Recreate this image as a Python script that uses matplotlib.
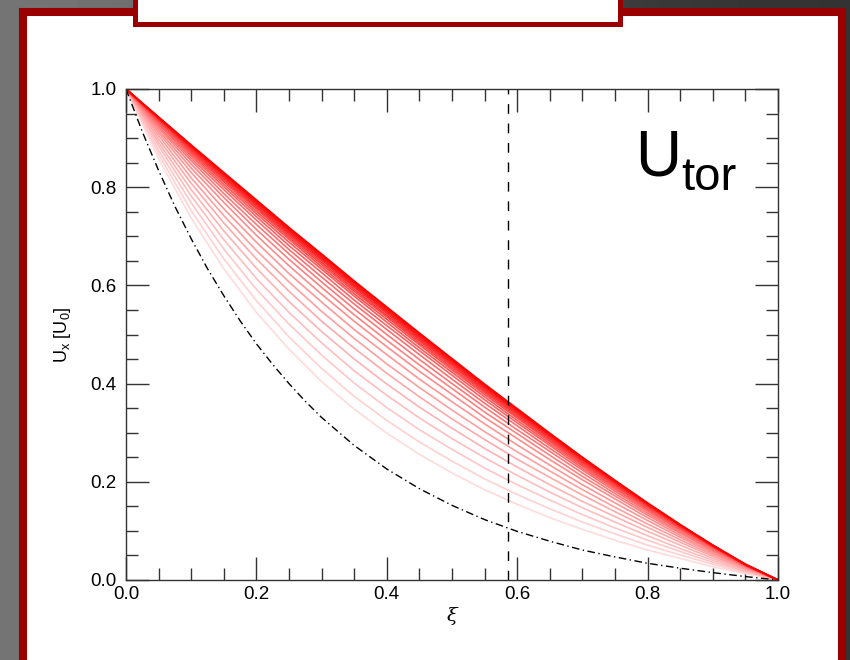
import matplotlib
matplotlib.use("Agg")
import matplotlib.pyplot as plt
from matplotlib.patches import Rectangle
from matplotlib.ticker import MultipleLocator, FormatStrFormatter
import numpy as np

plt.rcParams["font.family"] = ["Liberation Sans", "DejaVu Sans"]
plt.rcParams["mathtext.fontset"] = "custom"
plt.rcParams["mathtext.rm"] = "Liberation Sans"

# --- data ------------------------------------------------------------------
xi_grid = [0.0, 0.05, 0.1, 0.15, 0.2, 0.25, 0.3, 0.35, 0.4, 0.45, 0.5,
           0.55, 0.6, 0.65, 0.7, 0.75, 0.8, 0.85, 0.9, 0.95, 1.0]

# U_x profiles, earliest (palest) first, last row = final (reddest) profile
u_profiles = [
    [1.0, 0.858, 0.737, 0.634, 0.545, 0.470, 0.404, 0.348, 0.299, 0.256, 0.218, 0.184, 0.154, 0.127, 0.103, 0.081, 0.061, 0.044, 0.027, 0.013, 0.0],
    [1.0, 0.867, 0.752, 0.654, 0.569, 0.495, 0.431, 0.374, 0.325, 0.281, 0.242, 0.206, 0.174, 0.145, 0.118, 0.094, 0.071, 0.051, 0.032, 0.015, 0.0],
    [1.0, 0.875, 0.768, 0.674, 0.592, 0.521, 0.458, 0.401, 0.351, 0.306, 0.266, 0.228, 0.194, 0.163, 0.133, 0.106, 0.081, 0.058, 0.036, 0.017, 0.0],
    [1.0, 0.884, 0.782, 0.693, 0.614, 0.545, 0.483, 0.426, 0.376, 0.330, 0.288, 0.249, 0.213, 0.179, 0.147, 0.118, 0.090, 0.064, 0.040, 0.018, 0.0],
    [1.0, 0.891, 0.795, 0.711, 0.635, 0.567, 0.506, 0.450, 0.399, 0.352, 0.309, 0.268, 0.230, 0.194, 0.160, 0.129, 0.099, 0.071, 0.044, 0.020, 0.0],
    [1.0, 0.898, 0.808, 0.727, 0.654, 0.588, 0.527, 0.472, 0.421, 0.373, 0.328, 0.286, 0.246, 0.209, 0.173, 0.139, 0.107, 0.077, 0.048, 0.022, 0.0],
    [1.0, 0.905, 0.819, 0.742, 0.671, 0.607, 0.547, 0.492, 0.440, 0.392, 0.346, 0.302, 0.261, 0.222, 0.184, 0.148, 0.114, 0.082, 0.051, 0.023, 0.0],
    [1.0, 0.911, 0.830, 0.756, 0.688, 0.624, 0.566, 0.510, 0.459, 0.409, 0.363, 0.318, 0.275, 0.234, 0.194, 0.157, 0.121, 0.087, 0.054, 0.025, 0.0],
    [1.0, 0.916, 0.839, 0.769, 0.702, 0.640, 0.582, 0.527, 0.475, 0.425, 0.378, 0.331, 0.288, 0.245, 0.204, 0.165, 0.127, 0.091, 0.057, 0.026, 0.0],
    [1.0, 0.921, 0.847, 0.779, 0.714, 0.653, 0.596, 0.540, 0.488, 0.438, 0.390, 0.342, 0.298, 0.254, 0.211, 0.171, 0.132, 0.095, 0.060, 0.027, 0.0],
    [1.0, 0.924, 0.854, 0.787, 0.724, 0.664, 0.607, 0.552, 0.500, 0.449, 0.400, 0.352, 0.306, 0.262, 0.218, 0.176, 0.136, 0.098, 0.061, 0.028, 0.0],
    [1.0, 0.928, 0.859, 0.795, 0.733, 0.673, 0.617, 0.562, 0.510, 0.459, 0.409, 0.360, 0.314, 0.268, 0.224, 0.181, 0.140, 0.101, 0.063, 0.028, 0.0],
    [1.0, 0.930, 0.864, 0.801, 0.740, 0.681, 0.626, 0.570, 0.518, 0.467, 0.417, 0.367, 0.320, 0.274, 0.228, 0.185, 0.143, 0.103, 0.065, 0.029, 0.0],
    [1.0, 0.933, 0.868, 0.806, 0.746, 0.688, 0.633, 0.578, 0.525, 0.473, 0.423, 0.373, 0.325, 0.278, 0.232, 0.188, 0.145, 0.105, 0.066, 0.030, 0.0],
    [1.0, 0.935, 0.871, 0.811, 0.751, 0.694, 0.638, 0.583, 0.531, 0.479, 0.428, 0.378, 0.330, 0.282, 0.235, 0.191, 0.148, 0.106, 0.067, 0.030, 0.0],
    [1.0, 0.936, 0.874, 0.814, 0.756, 0.698, 0.643, 0.588, 0.536, 0.483, 0.432, 0.382, 0.333, 0.285, 0.238, 0.193, 0.149, 0.107, 0.068, 0.030, 0.0],
    [1.0, 0.938, 0.876, 0.817, 0.759, 0.702, 0.647, 0.592, 0.539, 0.487, 0.436, 0.385, 0.336, 0.288, 0.241, 0.195, 0.151, 0.109, 0.068, 0.031, 0.0],
    [1.0, 0.939, 0.878, 0.820, 0.762, 0.705, 0.651, 0.596, 0.543, 0.490, 0.439, 0.388, 0.339, 0.290, 0.242, 0.197, 0.152, 0.109, 0.069, 0.031, 0.0],
    [1.0, 0.940, 0.880, 0.822, 0.765, 0.708, 0.654, 0.599, 0.546, 0.493, 0.442, 0.390, 0.341, 0.292, 0.244, 0.198, 0.153, 0.110, 0.069, 0.031, 0.0],
    [1.0, 0.941, 0.882, 0.824, 0.767, 0.711, 0.656, 0.601, 0.548, 0.496, 0.444, 0.393, 0.343, 0.294, 0.246, 0.199, 0.154, 0.111, 0.070, 0.031, 0.0],
    [1.0, 0.941, 0.883, 0.826, 0.770, 0.713, 0.659, 0.604, 0.551, 0.498, 0.447, 0.395, 0.345, 0.296, 0.247, 0.201, 0.155, 0.112, 0.070, 0.032, 0.0],
    [1.0, 0.942, 0.885, 0.828, 0.772, 0.716, 0.662, 0.607, 0.554, 0.501, 0.449, 0.397, 0.347, 0.297, 0.249, 0.202, 0.156, 0.112, 0.071, 0.032, 0.0],
    [1.0, 0.943, 0.886, 0.830, 0.774, 0.718, 0.664, 0.609, 0.556, 0.503, 0.451, 0.399, 0.349, 0.299, 0.250, 0.203, 0.157, 0.113, 0.071, 0.032, 0.0],
]

# reference profile (dash-dot)
xi_ref = [0.0, 0.025, 0.05, 0.075, 0.1, 0.125, 0.15, 0.175, 0.2, 0.225, 0.25,
          0.275, 0.3, 0.35, 0.4, 0.45, 0.5, 0.55, 0.6, 0.65, 0.7, 0.75, 0.8,
          0.85, 0.9, 0.95, 1.0]
u_ref = [1.0, 0.913, 0.834, 0.761, 0.695, 0.634, 0.579, 0.528, 0.481, 0.439,
         0.400, 0.364, 0.331, 0.274, 0.226, 0.186, 0.152, 0.123, 0.099, 0.079,
         0.061, 0.047, 0.034, 0.024, 0.015, 0.007, 0.0]

xi_mark = 0.586          # vertical dashed marker
panel_label = "U"
panel_sub = "tor"

# --- figure ----------------------------------------------------------------
W, H = 850, 660
fig = plt.figure(figsize=(W / 100, H / 100), dpi=100)

# slide-style background, in pixel coordinates
bg = fig.add_axes([0, 0, 1, 1], zorder=-5)
bg.set_xlim(0, W); bg.set_ylim(H, 0); bg.axis("off")
grad = np.array([[0.46, 0.36, 0.26, 0.20]])
bg.imshow(grad, cmap="gray", vmin=0, vmax=1, extent=(0, W, H, 0),
          aspect="auto", interpolation="bicubic")
bg.add_patch(Rectangle((23, 12), 819, 700, facecolor="white",
                       edgecolor="#9a0000", lw=5.8))
bg.add_patch(Rectangle((135.5, -30), 485, 53.5, facecolor="white",
                       edgecolor="#9a0000", lw=3.6))

ax = fig.add_axes([126 / W, 1 - 580 / H, 652 / W, 491 / H])
n = len(u_profiles)
for j, prof in enumerate(u_profiles):
    g = 0.86 * (1 - j / (n - 1))      # pale pink -> pure red
    ax.plot(xi_grid, prof, color=(1.0, g, g), lw=1.2, solid_joinstyle="round")

ax.plot(xi_ref, u_ref, color="black", lw=1.0, dashes=(5.5, 2.5, 1.0, 2.5))
ax.axvline(xi_mark, color="black", lw=1.0, dashes=(7, 7))

ax.set_xlim(0, 1)
ax.set_ylim(0, 1)
for a in (ax.xaxis, ax.yaxis):
    a.set_major_locator(MultipleLocator(0.2))
    a.set_minor_locator(MultipleLocator(0.05))
    a.set_major_formatter(FormatStrFormatter("%.1f"))
ax.tick_params(which="both", direction="in", top=True, right=True,
               color="#333333", width=1.0, labelsize=13.5)
ax.tick_params(which="major", length=16.5)
ax.tick_params(which="minor", length=8.6)
ax.tick_params(axis="x", pad=4)
ax.tick_params(axis="y", pad=7)
for sp in ax.spines.values():
    sp.set_color("#333333")
    sp.set_linewidth(1.0)

ax.text(-0.098, 0.5, r"U$_\mathrm{x}$ [U$_\mathrm{0}$]", transform=ax.transAxes,
        rotation=90, ha="center", va="center", fontsize=13)
ax.text(0.5, -0.073, "\u03be", transform=ax.transAxes, ha="center",
        va="center", fontsize=14, family="DejaVu Serif", style="italic")

fig.text(635 / W, 1 - 175 / H, panel_label, fontsize=46, va="baseline")
fig.text(681 / W, 1 - 190 / H, panel_sub, fontsize=34, va="baseline")

fig.savefig("out.png", dpi=100)
